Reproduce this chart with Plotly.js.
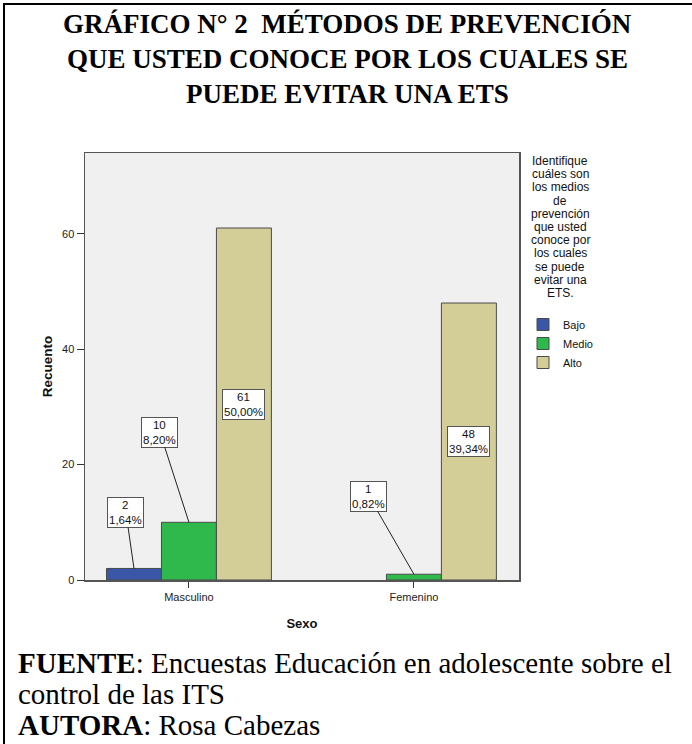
<!DOCTYPE html>
<html>
<head>
<meta charset="utf-8">
<script src="https://cdn.plot.ly/plotly-3.0.1.min.js"></script>
<style>
  html, body { margin: 0; padding: 0; background: #fff; }
  #wrap { position: relative; width: 692px; height: 744px; }
  #chart { width: 692px; height: 744px; }
  #frame { position: absolute; left: 3px; top: 3px; width: 700px; height: 760px;
           border-left: 2px solid #000; border-top: 2px solid #000; pointer-events: none; }
</style>
</head>
<body>
<div id="wrap"><div id="chart"></div><div id="frame"></div></div>
<script>
// ---- data ----
const categories = ['Masculino', 'Femenino'];
const seriesNames = ['Bajo', 'Medio', 'Alto'];
const bajo  = [2, null];
const medio = [10, 1];
const alto  = [61, 48];
const pctBajo  = ['1,64%', null];
const pctMedio = ['8,20%', '0,82%'];
const pctAlto  = ['50,00%', '39,34%'];
const titleLines = ['GRÁFICO N° 2&nbsp; MÉTODOS DE PREVENCIÓN', 'QUE USTED CONOCE POR LOS CUALES SE', 'PUEDE EVITAR UNA ETS'];
const legendTitleLines = ['Identifique', 'cuáles son', 'los medios', 'de', 'prevención',
  'que usted', 'conoce por', 'los cuales', 'se puede', 'evitar una', 'ETS.'];
const yTickValues = [0, 20, 40, 60];

// ---- styles ----
const colors = ['#3a56a6', '#2fb84c', '#d3ce98'];
const W = 692, H = 744;
const M = { l: 85, r: 173, t: 153, b: 164 };
const PW = W - M.l - M.r, PH = H - M.t - M.b;
const px2x = p => (p - M.l) / PW;
const py2y = p => (H - M.b - p) / PH;
const BARGAP = 0.267;
const barW = (1 - BARGAP) / 3;
const sans = 'Liberation Sans, Arial, sans-serif';
const serif = 'Liberation Serif, Times New Roman, serif';

const values = [bajo, medio, alto];
const pcts = [pctBajo, pctMedio, pctAlto];

const traces = seriesNames.map((name, i) => ({
  type: 'bar', name: name, x: categories, y: values[i],
  marker: { color: colors[i], line: { color: '#4a4a4a', width: 1 } },
  hoverinfo: 'x+y+name'
}));

// label placement (style): inside for tall bars, arrow callouts for short ones
const callout = {
  '0-0': { ax: -8, ay: -56 },
  '1-0': { ax: -29, ay: -90 },
  '1-1': { ax: -45, ay: -78 }
};

const annotations = [];
values.forEach((vals, si) => {
  vals.forEach((v, ci) => {
    if (v === null || v === undefined) return;
    const xpos = ci + (si - 1) * barW;
    const txt = v + '<br>' + pcts[si][ci];
    const base = {
      xref: 'x', yref: 'y', text: txt, align: 'center',
      font: { family: sans, size: 11.5, color: '#111' },
      bgcolor: '#ffffff', bordercolor: '#555', borderwidth: 1, borderpad: 1
    };
    const c = callout[si + '-' + ci];
    if (c) {
      annotations.push(Object.assign(base, {
        x: xpos, y: v, showarrow: true, arrowhead: 0, arrowwidth: 1,
        arrowcolor: '#222', ax: c.ax, ay: c.ay
      }));
    } else {
      annotations.push(Object.assign(base, { x: xpos, y: v / 2, showarrow: false }));
    }
  });
});

// chart title (one annotation per line)
titleLines.forEach((t, i) => annotations.push({
  xref: 'paper', yref: 'paper', x: px2x(347), y: py2y(24 + i * 35),
  xanchor: 'center', yanchor: 'middle', showarrow: false,
  text: '<b>' + t + '</b>', font: { family: serif, size: 27, color: '#000' }
}));

// legend title (one line each, tight spacing)
legendTitleLines.forEach((t, i) => annotations.push({
  xref: 'paper', yref: 'paper', x: px2x(560), y: py2y(161 + i * 13.2),
  xanchor: 'center', yanchor: 'middle', showarrow: false,
  text: t, font: { family: sans, size: 12, color: '#111' }
}));

// source notes
const notes = [
  { t: '<b>FUENTE</b>: Encuestas Educación en adolescente sobre el', y: 663 },
  { t: 'control de las ITS', y: 694 },
  { t: '<b>AUTORA</b>: Rosa Cabezas', y: 725 }
];
notes.forEach(n => annotations.push({
  xref: 'paper', yref: 'paper', x: px2x(16), y: py2y(n.y), xanchor: 'left', yanchor: 'middle',
  text: n.t, showarrow: false, align: 'left',
  font: { family: serif, size: 29, color: '#000' }
}));

const layout = {
  width: W, height: H,
  margin: M,
  paper_bgcolor: 'rgba(0,0,0,0)',
  plot_bgcolor: '#f0f0f0',
  barmode: 'group', bargap: BARGAP, bargroupgap: 0,
  xaxis: {
    type: 'category', range: [-0.462, 1.467],
    showline: true, mirror: true, linecolor: '#555', linewidth: 1.5,
    ticks: 'outside', ticklen: 6, tickcolor: '#333',
    tickfont: { family: sans, size: 11, color: '#222' },
    title: { text: '<b>Sexo</b>', font: { family: sans, size: 13, color: '#111' }, standoff: 17 },
    showgrid: false, zeroline: false, fixedrange: true
  },
  yaxis: {
    range: [0, 74], tickvals: yTickValues, ticktext: yTickValues.map(String),
    showline: true, mirror: true, linecolor: '#555', linewidth: 1.5,
    ticks: 'outside', ticklen: 7, tickcolor: '#333',
    tickfont: { family: sans, size: 11, color: '#222' },
    title: { text: '<b>Recuento</b>', font: { family: sans, size: 13.5, color: '#111' }, standoff: 6 },
    showgrid: false, zeroline: false, fixedrange: true
  },
  showlegend: true,
  legend: {
    x: px2x(523), y: py2y(310), xanchor: 'left', yanchor: 'top',
    bgcolor: 'rgba(0,0,0,0)', borderwidth: 0,
    font: { family: sans, size: 11, color: '#111' },
    itemwidth: 30, traceorder: 'normal', tracegroupgap: 0
  },
  annotations: annotations
};

Plotly.newPlot('chart', traces, layout, { displayModeBar: false, staticPlot: true });
</script>
</body>
</html>
